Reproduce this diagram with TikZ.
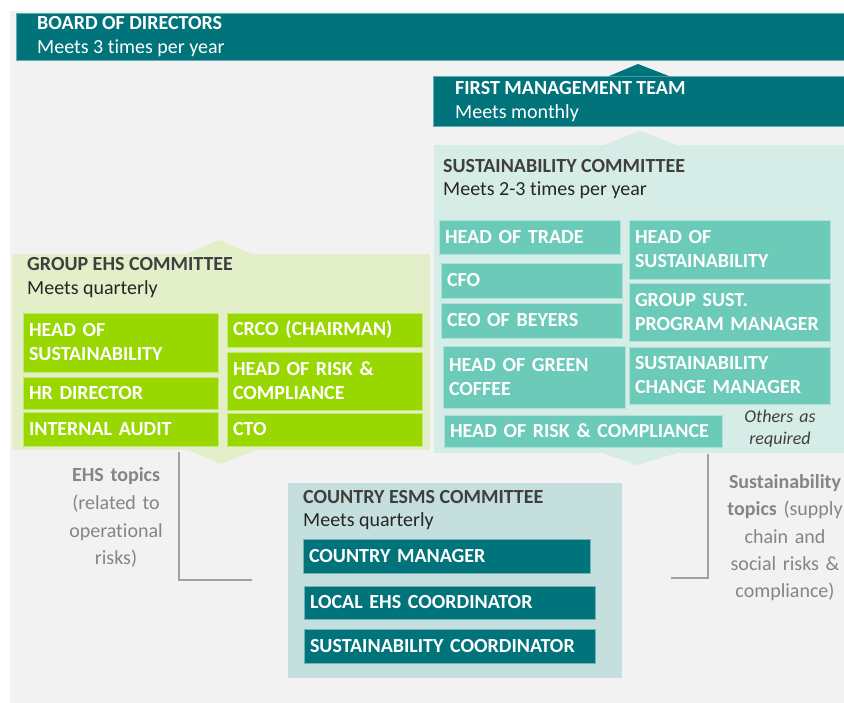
\documentclass[tikz,border=0pt]{standalone}
\usepackage{fontspec}
\setmainfont{Carlito}[Ligatures=NoCommon]
\usetikzlibrary{positioning}

\definecolor{boardteal}{HTML}{00747A}
\definecolor{pagegrey}{HTML}{F2F2F2}
\definecolor{sustbg}{HTML}{D6ECE7}
\definecolor{sustbox}{HTML}{6CCAB8}
\definecolor{ehsbg}{HTML}{E2EFC8}
\definecolor{ehsbox}{HTML}{98D700}
\definecolor{esmsbg}{HTML}{C4DFDD}
\definecolor{titlegrey}{HTML}{3F3F3F}
\definecolor{meetsgrey}{HTML}{262626}
\definecolor{topicgrey}{HTML}{858585}
\definecolor{linkgrey}{HTML}{A5A09B}

\newcommand\memberfont{\fontsize{20}{24}\selectfont\bfseries}
\newcommand\headfont{\fontsize{20}{24}\selectfont\bfseries}
\newcommand\meetsfont{\fontsize{20}{24}\selectfont}
\newcommand\topicfont{\fontsize{20}{27.5}\selectfont}

\begin{document}
\begin{tikzpicture}[
  x=1pt, y=-1pt,
  box/.style={anchor=north west, inner sep=0pt, outer sep=0pt},
  member/.style={anchor=north west, inner xsep=6pt, inner ysep=0pt, outer sep=0pt,
    align=left, text=white, font=\memberfont, line width=0.8pt},
  sustm/.style={member, fill=sustbox, draw=sustbox!55!white},
  ehsm/.style={member, fill=ehsbox, draw=ehsbox!55!white},
  esmsm/.style={member, fill=boardteal, draw=boardteal!55!white},
  head/.style={anchor=base west, inner sep=0pt, font=\headfont},
  meets/.style={anchor=base west, inner sep=0pt, font=\meetsfont},
  topic/.style={anchor=base, align=center, text width=120pt, inner sep=0pt,
    text=topicgrey, font=\topicfont},
  link/.style={draw=linkgrey, line width=1.5pt}
]
\useasboundingbox (0,0) rectangle (844,703);
\fill[pagegrey] (10,11) rectangle (844,703);

% committees
\node[box, fill=boardteal, draw=boardteal!60!white, line width=0.6pt,
  minimum width=828pt, minimum height=47pt] (board) at (16,13) {};
\node[box, fill=boardteal, draw=boardteal!60!white, line width=0.6pt,
  minimum width=411pt, minimum height=50pt] (fmt) at (433,76) {};
\node[box, fill=sustbg, minimum width=410pt, minimum height=308pt] (sust) at (434,145) {};
\node[box, fill=ehsbg, minimum width=418pt, minimum height=196pt] (ehs) at (12,254) {};
\node[box, fill=esmsbg, minimum width=334pt, minimum height=195pt] (esms) at (288,483) {};

% pointers between the levels
\fill[boardteal] (608,76.5) -- (638,64) -- (670,76.5) -- cycle;
\fill[sustbg] (603,145.5) -- (640,131) -- (678,145.5) -- cycle;
\fill[sustbg] (601,452.5) -- (637,465) -- (679,452.5) -- cycle;
\fill[ehsbg] (185,254.5) -- (219,240) -- (253,254.5) -- cycle;
\fill[ehsbg] (187,449.5) -- (221,464) -- (257,449.5) -- cycle;

% titles
\node[head, text=white] (boardname) at (37,30) {BOARD OF DIRECTORS};
\node[meets, text=white] (boardmeets) at (37,54) {Meets 3 times per year};
\node[head, text=white] (fmtname) at (455,95) {FIRST MANAGEMENT TEAM};
\node[meets, text=white] (fmtmeets) at (455,119) {Meets monthly};
\node[head, text=titlegrey] (sustname) at (443,173) {SUSTAINABILITY COMMITTEE};
\node[meets, text=meetsgrey] (sustmeets) at (443,196) {Meets 2-3 times per year};
\node[head, text=titlegrey] (ehsname) at (27,271) {GROUP EHS COMMITTEE};
\node[meets, text=meetsgrey] (ehsmeets) at (27,295) {Meets quarterly};
\node[head, text=titlegrey] (esmsname) at (303,503) {COUNTRY ESMS COMMITTEE};
\node[meets, text=meetsgrey] (esmsmeets) at (303,526) {Meets quarterly};

% sustainability committee members
\node[sustm, text width=169pt, minimum height=34pt] (trade) at (439,220) {HEAD OF TRADE};
\node[sustm, text width=169pt, minimum height=35pt] (cfo) at (441,263) {CFO};
\node[sustm, text width=169pt, minimum height=35pt] (beyers) at (441,303) {CEO OF BEYERS};
\node[sustm, text width=170pt, minimum height=62pt] (coffee) at (443,346) {HEAD OF GREEN\\COFFEE};
\node[sustm, text width=266pt, minimum height=32pt] (sustrisk) at (444,415) {HEAD OF RISK \& COMPLIANCE};
\node[sustm, text width=189pt, minimum height=59pt] (susthead) at (629,220) {HEAD OF\\SUSTAINABILITY};
\node[sustm, text width=189pt, minimum height=58pt] (program) at (629,283) {GROUP SUST.\\PROGRAM MANAGER};
\node[sustm, text width=189pt, minimum height=57pt] (change) at (629,347) {SUSTAINABILITY\\CHANGE MANAGER};
\node[anchor=base, align=center, text width=90pt, inner sep=0pt, text=titlegrey,
  font=\fontsize{18}{21}\selectfont\itshape] (others) at (780,423) {Others as\\required};

% group EHS committee members
\node[ehsm, text width=183pt, minimum height=59pt] (ehshead) at (23,313) {HEAD OF\\SUSTAINABILITY};
\node[ehsm, text width=183pt, minimum height=32pt] (hr) at (23,377) {HR DIRECTOR};
\node[ehsm, text width=183pt, minimum height=34pt] (audit) at (23,412) {INTERNAL AUDIT};
\node[ehsm, text width=183pt, minimum height=34pt] (crco) at (227,313) {CRCO (CHAIRMAN)};
\node[ehsm, text width=183pt, minimum height=58pt] (ehsrisk) at (227,352) {HEAD OF RISK \&\\COMPLIANCE};
\node[ehsm, text width=183pt, minimum height=33pt] (cto) at (227,413) {CTO};

% country ESMS committee members
\node[esmsm, text width=275pt, minimum height=34pt] (manager) at (303,539) {COUNTRY MANAGER};
\node[esmsm, text width=279pt, minimum height=33pt, below=13pt of manager.south west,
  anchor=north west, xshift=1pt] (localehs) {LOCAL EHS COORDINATOR};
\node[esmsm, text width=279pt, minimum height=34pt, below=10pt of localehs.south west,
  anchor=north west] (sustcoord) {SUSTAINABILITY COORDINATOR};

% reporting lines
\coordinate (ehsbend) at (179,580);
\coordinate (ehsend) at (252,580);
\coordinate (sustbend) at (708,578);
\coordinate (sustend) at (671,578);
\draw[link] (ehsbend |- ehs.south) ++(0,2) -- (ehsbend) -- (ehsend);
\draw[link] (sustbend |- sust.south) ++(0,1) -- (sustbend) -- (sustend);

\node[topic] (ehstopic) at (116,482)
  {\textbf{EHS topics}\\(related to\\operational\\risks)};
\node[topic] (susttopic) at (785,488)
  {\textbf{Sustainability}\\\textbf{topics} (supply\\chain and\\social risks \&\\compliance)};
\end{tikzpicture}
\end{document}
